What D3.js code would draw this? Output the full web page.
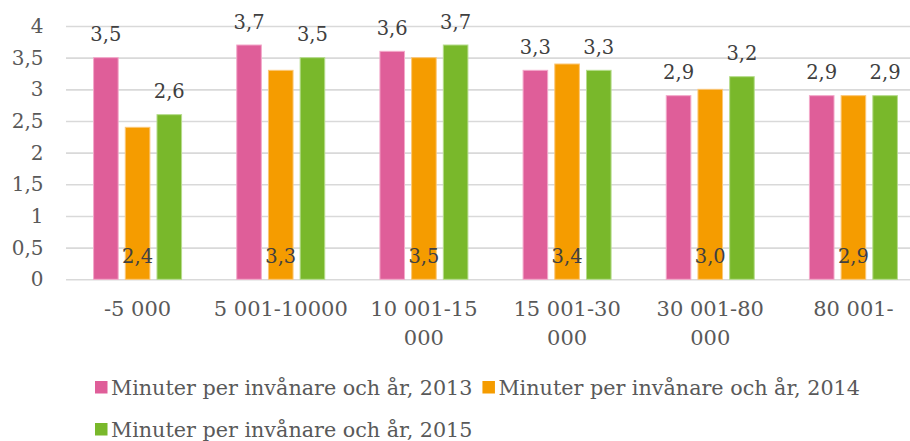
<!DOCTYPE html>
<html><head><meta charset="utf-8">
<script src="https://cdn.jsdelivr.net/npm/d3@7/dist/d3.min.js"></script>
<style>
html,body{margin:0;padding:0;background:#fff;}
svg{display:block;font-family:"DejaVu Serif",serif;}
</style></head>
<body>
<svg id="chart" width="910" height="441"></svg>
<script>
const categories = ["-5 000","5 001-10000","10 001-15 000","15 001-30 000","30 001-80 000","80 001-"];
const seriesNames = ["Minuter per invånare och år, 2013","Minuter per invånare och år, 2014","Minuter per invånare och år, 2015"];
const values2013 = [3.5,3.7,3.6,3.3,2.9,2.9];
const values2014 = [2.4,3.3,3.5,3.4,3.0,2.9];
const values2015 = [2.6,3.5,3.7,3.3,3.2,2.9];
const yTicks = [0,0.5,1,1.5,2,2.5,3,3.5,4];
const colors = ["#df5e99","#f59c00","#79b82b"];
const strokes = ["#f3a9ca","#fbc777","#b6dc8c"];

const seriesValues = [values2013, values2014, values2015];
const svg = d3.select("#chart");
const plotLeft = 66, plotRight = 925, plotTop = 26, plotBottom = 279.3;

const x0 = d3.scaleBand().domain(categories).range([plotLeft, plotRight]).paddingInner(0).paddingOuter(0);
const groupW = 95.1;
const x1 = d3.scaleBand().domain([0,1,2]).range([0, groupW]).paddingInner(0.224).paddingOuter(0.112);
const y = d3.scaleLinear().domain([0,4]).range([plotBottom, plotTop]);
const fmt = v => d3.format(".1f")(v).replace(".", ",");
const tickFmt = v => String(v).replace(".", ",");

// y axis with gridlines
const yAxis = svg.append("g").attr("transform", `translate(${plotLeft},0)`)
  .call(d3.axisLeft(y).tickValues(yTicks).tickFormat(tickFmt).tickSize(-(910 - plotLeft)).tickPadding(22.5));
yAxis.select(".domain").remove();
yAxis.selectAll(".tick line").attr("stroke", "#d9d9d9").attr("stroke-width", 1.6);
yAxis.selectAll(".tick text").attr("fill", "#595959").attr("font-size", 20).attr("font-family", "DejaVu Serif");

// bars
const groups = svg.append("g").selectAll("g").data(categories).join("g")
  .attr("transform", d => `translate(${x0(d) + (x0.bandwidth() - groupW)/2},0)`);
seriesValues.forEach((vals, s) => {
  groups.append("rect")
    .attr("x", x1(s))
    .attr("width", x1.bandwidth())
    .attr("y", (d,i) => y(vals[i]))
    .attr("height", (d,i) => y(0) - y(vals[i]))
    .attr("fill", colors[s])
    .attr("stroke", strokes[s])
    .attr("stroke-width", 1);
});

// data labels
seriesValues.forEach((vals, s) => {
  groups.append("text")
    .attr("x", x1(s) + x1.bandwidth()/2)
    .attr("y", (d,i) => s === 1 ? y(0) - 16.5 : y(vals[i]) - 16.3)
    .attr("text-anchor", "middle")
    .attr("font-size", 19.5)
    .attr("fill", "#404040")
    .text((d,i) => fmt(vals[i]));
});

// x axis labels
const xAxis = svg.append("g").attr("transform", `translate(0,${plotBottom})`)
  .call(d3.axisBottom(x0).tickSize(0).tickPadding(0));
xAxis.select(".domain").remove();
xAxis.selectAll(".tick text")
  .attr("fill", "#595959").attr("font-size", 21).attr("font-family", "DejaVu Serif")
  .attr("dy", null).attr("y", 37.2)
  .each(function(d) {
    const t = d3.select(this);
    const words = d.split(" ");
    t.text(null);
    let line = [];
    let tspan = t.append("tspan").attr("x", 0).attr("y", 37.2);
    let lineNo = 0;
    words.forEach(w => {
      line.push(w);
      tspan.text(line.join(" "));
      if (tspan.node().getComputedTextLength() > 140 && line.length > 1) {
        line.pop();
        tspan.text(line.join(" "));
        line = [w];
        lineNo++;
        tspan = t.append("tspan").attr("x", 0).attr("y", 37.2 + lineNo*28.3).text(w);
      }
    });
  });

// legend
const legend = svg.append("g").attr("font-size", 20.7).attr("fill", "#595959");
const rows = [[0,1],[2]];
const rowBase = [395, 437];
rows.forEach((items, r) => {
  let cx = 95;
  items.forEach(s => {
    legend.append("rect").attr("x", cx).attr("y", rowBase[r] - 14).attr("width", 12.5).attr("height", 12.5).attr("fill", colors[s]);
    const t = legend.append("text").attr("x", cx + 16).attr("y", rowBase[r]).text(seriesNames[s]);
    cx = cx + 16 + t.node().getComputedTextLength() + 10;
  });
});
</script>
</body></html>
